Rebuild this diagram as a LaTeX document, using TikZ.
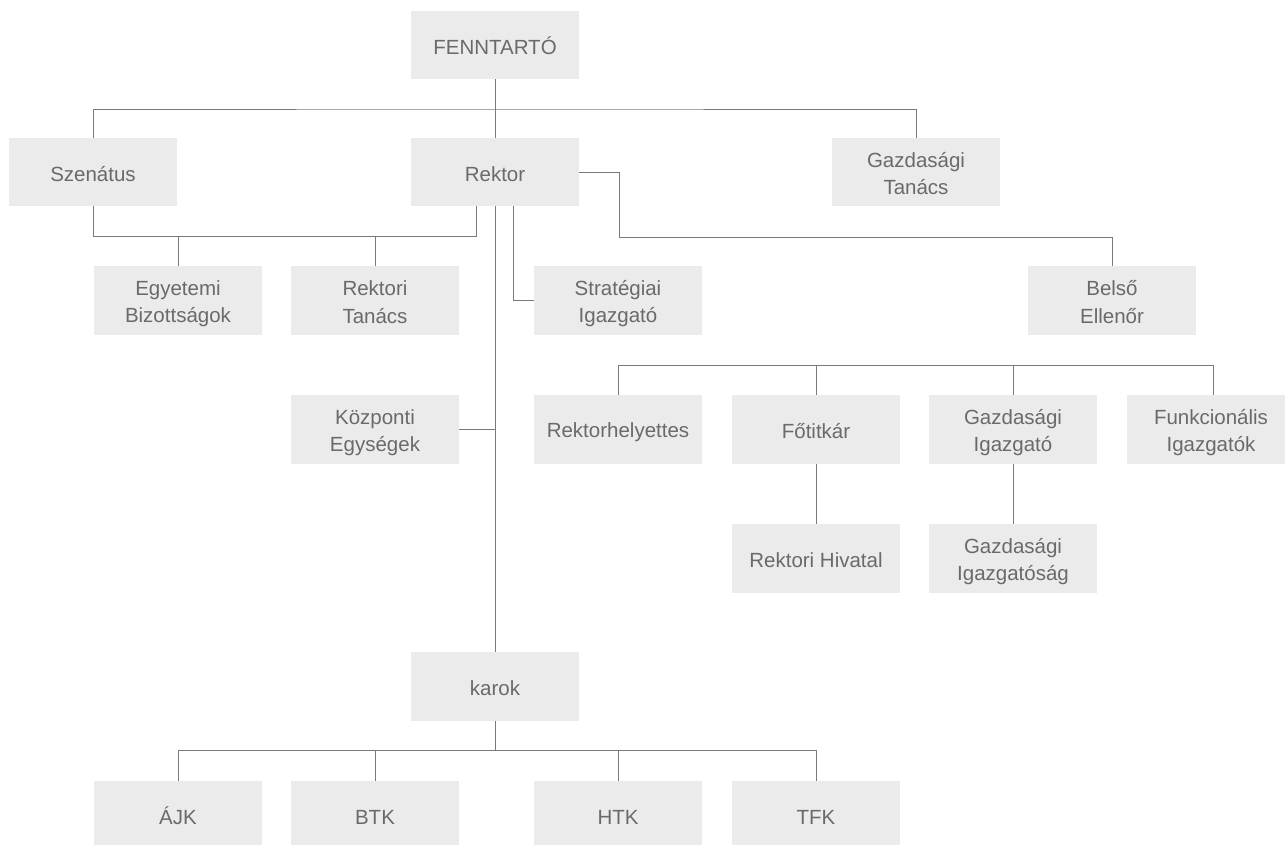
\documentclass[tikz,border=0pt]{standalone}
\usepackage{fontspec}
\setmainfont{Liberation Sans}
\definecolor{boxfill}{HTML}{EBEBEC}
\definecolor{txt}{HTML}{6A6A6A}
\definecolor{ln}{HTML}{7A7A7A}
\newcommand{\boxstrut}{\rule[-3pt]{0pt}{24pt}}
\begin{document}
\begin{tikzpicture}[x=1pt,y=-1pt,
  box/.style={fill=boxfill,text=txt,minimum width=168pt,minimum height=68.5pt,inner sep=0pt,align=center,
    font=\fontsize{20.5}{27.5}\selectfont},
  conn/.style={draw=ln,line width=1pt}]
\useasboundingbox (0,0) rectangle (1285,844);
\clip (0,0) rectangle (1285,844);
% nodes
\node[box] (fen) at (495,45) {\boxstrut FENNTARTÓ};
\node[box] (sze) at (93,172) {\boxstrut Szenátus};
\node[box] (rek) at (495,172) {\boxstrut Rektor};
\node[box] (gt) at (916,172) {\boxstrut Gazdasági\\\boxstrut Tanács};
\node[box] (eb) at (178,300.5) {\boxstrut Egyetemi\\\boxstrut Bizottságok};
\node[box] (rt) at (375,300.5) {\boxstrut Rektori\\\boxstrut Tanács};
\node[box] (si) at (618,300.5) {\boxstrut Stratégiai\\\boxstrut Igazgató};
\node[box] (be) at (1112,300.5) {\boxstrut Belső\\\boxstrut Ellenőr};
\node[box] (kz) at (375,429.5) {\boxstrut Központi\\\boxstrut Egységek};
\node[box] (rh) at (618,429.5) {\boxstrut Rektorhelyettes};
\node[box] (ft) at (816,429.5) {\boxstrut Főtitkár};
\node[box] (gi) at (1013,429.5) {\boxstrut Gazdasági\\\boxstrut Igazgató};
\node[box] (fi) at (1211,429.5) {\boxstrut Funkcionális\\\boxstrut Igazgatók};
\node[box] (rhv) at (816,558.5) {\boxstrut Rektori Hivatal};
\node[box] (gig) at (1013,558.5) {\boxstrut Gazdasági\\\boxstrut Igazgatóság};
\node[box] (kar) at (495,686.5) {\boxstrut karok};
\node[box] (ajk) at (178,815) {\boxstrut ÁJK};
\node[box] (btk) at (375,815) {\boxstrut BTK};
\node[box] (htk) at (618,815) {\boxstrut HTK};
\node[box] (tfk) at (816,815) {\boxstrut TFK};
% junction coordinates
\coordinate (t1) at (495,109);
\coordinate (b1) at (476,236);
\coordinate (b2) at (619,237);
\coordinate (h1) at (618,365);
\coordinate (h2) at (495,750);
% connectors
\draw[conn] (fen.south) -- (rek.north);
\draw[conn] (sze.north) |- (t1) -| (gt.north);
\draw[conn] ([xshift=-19pt]rek.south) -- (b1) -| (sze.south);
\draw[conn] (eb.north) -- (eb.north |- b1);
\draw[conn] (rt.north) -- (rt.north |- b1);
\draw[conn] ([xshift=18pt]rek.south) |- (si.west);
\draw[conn] (rek.east) -| (b2) -| (be.north);
\draw[conn] (rek.south) -- (kar.north);
\draw[conn] (kz.east) -- (kz.east -| kar.north);
\draw[conn] (rh.north) |- ([xshift=2pt]fi.north |- h1) -- ([xshift=2pt]fi.north);
\draw[conn] (ft.north) -- (ft.north |- h1);
\draw[conn] (gi.north) -- (gi.north |- h1);
\draw[conn] (ft.south) -- (rhv.north);
\draw[conn] (gi.south) -- (gig.north);
\draw[conn] (kar.south) -- (h2);
\draw[conn] (ajk.north) |- (tfk.north |- h2) -- (tfk.north);
\draw[conn] (btk.north) -- (btk.north |- h2);
\draw[conn] (htk.north) -- (htk.north |- h2);
\end{tikzpicture}
\end{document}
